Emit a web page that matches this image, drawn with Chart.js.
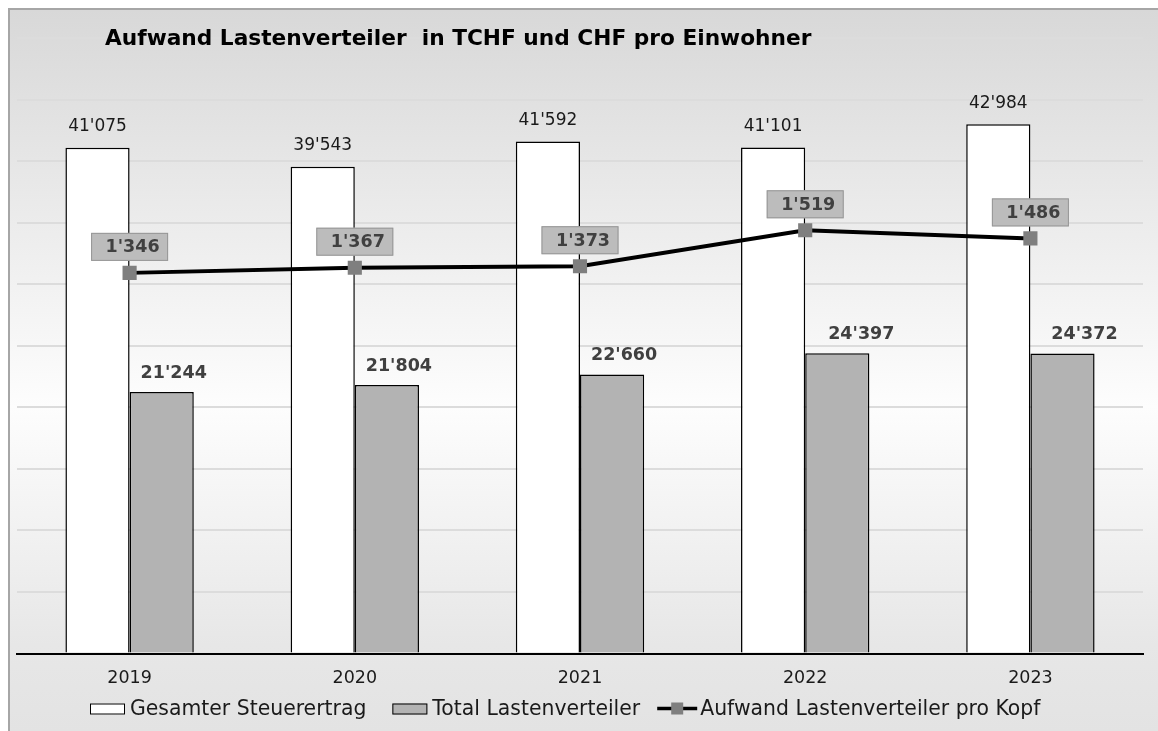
<!DOCTYPE html>
<html>
<head>
<meta charset="utf-8">
<script src="https://cdn.jsdelivr.net/npm/chart.js@4.4.0/dist/chart.umd.min.js"></script>
<style>
    html, body { margin: 0; padding: 0; width: 1158px; height: 731px; overflow: hidden; background: #fff; }
    #frame {
        position: absolute; left: 8px; top: 8px; width: 1150px; height: 723px; box-sizing: border-box;
        border-left: 2px solid #a6a6a6; border-top: 2px solid #a6a6a6;
        background: linear-gradient(to bottom, #d8d8d8 0%, #fdfdfd 55%, #e7e7e7 88%, #e3e3e3 100%);
    }
    #chart { position: absolute; left: 0; top: 0; }
</style>
</head>
<body>
<div id="frame"></div>
<canvas id="chart" width="1158" height="731"></canvas>
<script>
const years = ['2019', '2020', '2021', '2022', '2023'];
const steuerertrag = [41075, 39543, 41592, 41101, 42984];
const lastenverteiler = [21244, 21804, 22660, 24397, 24372];
const proKopf = [1346, 1367, 1373, 1519, 1486];
const seriesNames = ['Gesamter Steuerertrag', 'Total Lastenverteiler', 'Aufwand Lastenverteiler pro Kopf'];
const chartTitle = 'Aufwand Lastenverteiler  in TCHF und CHF pro Einwohner';

const FONT = '"DejaVu Sans", Verdana, sans-serif';

// the grey bar labels were dragged a bit to the right in the original
const greyLabelShift = [12, 12, 12, 24, 22];

// 41075 -> 41'075
function fmt(n) {
    return String(n).replace(/\B(?=(\d{3})+(?!\d))/g, "'");
}

const titlePlugin = {
    id: 'excelTitle',
    afterDraw(chart) {
        const ctx = chart.ctx;
        ctx.save();
        ctx.font = 'bold 21.7px ' + FONT;
        ctx.fillStyle = '#000';
        ctx.textAlign = 'left';
        ctx.textBaseline = 'alphabetic';
        ctx.fillText(chartTitle, 105, 45);
        ctx.restore();
    }
};

// Excel style legend: icon directly followed by text, drawn under the axis labels
const legendPlugin = {
    id: 'excelLegend',
    afterDraw(chart) {
        const ctx = chart.ctx;
        const baseY = 714.5;
        const midY = 708.5;
        const gaps = [26, 17];
        ctx.save();
        ctx.font = '20.4px ' + FONT;
        ctx.textAlign = 'left';
        ctx.textBaseline = 'alphabetic';
        let x = 90;
        chart.data.datasets.forEach((ds, i) => {
            if (ds.type === 'line') {
                ctx.strokeStyle = '#000';
                ctx.lineWidth = 3.5;
                ctx.beginPath(); ctx.moveTo(x, midY); ctx.lineTo(x + 40, midY); ctx.stroke();
                ctx.fillStyle = ds.pointBackgroundColor;
                ctx.fillRect(x + 14, midY - 6, 12, 12);
                x += 43;
            } else {
                ctx.fillStyle = ds.backgroundColor;
                ctx.fillRect(x, midY - 5, 35, 11);
                ctx.strokeStyle = '#000';
                ctx.lineWidth = 1;
                ctx.strokeRect(x + 0.5, midY - 4.5, 34, 10);
                x += 40;
            }
            ctx.fillStyle = '#1a1a1a';
            ctx.fillText(ds.label, x, baseY);
            x += ctx.measureText(ds.label).width + (gaps[i] || 0);
        });
        ctx.restore();
    }
};

const labelPlugin = {
    id: 'valueLabels',
    afterDatasetsDraw(chart) {
        const ctx = chart.ctx;
        ctx.save();
        ctx.textAlign = 'center';
        ctx.textBaseline = 'middle';

        // white bars: plain labels above
        ctx.font = '17px ' + FONT;
        ctx.fillStyle = '#1a1a1a';
        chart.getDatasetMeta(0).data.forEach((bar, i) => {
            ctx.fillText(fmt(steuerertrag[i]), bar.x, bar.y - 21);
        });

        // grey bars: bold labels
        ctx.font = 'bold 17.5px ' + FONT;
        ctx.fillStyle = '#404040';
        chart.getDatasetMeta(1).data.forEach((bar, i) => {
            ctx.fillText(fmt(lastenverteiler[i]), bar.x + greyLabelShift[i], bar.y - 19);
        });

        // line points: grey boxes
        chart.getDatasetMeta(2).data.forEach((pt, i) => {
            const w = 77, h = 28;
            const cx = pt.x, cy = pt.y - 26;
            ctx.fillStyle = '#bcbcbc';
            ctx.fillRect(cx - w / 2, cy - h / 2, w, h);
            ctx.strokeStyle = '#969696';
            ctx.lineWidth = 1;
            ctx.strokeRect(cx - w / 2 + 0.5, cy - h / 2 + 0.5, w - 1, h - 1);
            ctx.fillStyle = '#404040';
            ctx.fillText(fmt(proKopf[i]), cx + 3, cy + 1);
        });
        ctx.restore();
    }
};

const chart = new Chart(document.getElementById('chart'), {
    type: 'bar',
    data: {
        labels: years,
        datasets: [
            {
                label: seriesNames[0], data: steuerertrag, yAxisID: 'y', order: 1,
                backgroundColor: '#ffffff', borderColor: '#000', borderWidth: 1.5,
                categoryPercentage: 0.57, barPercentage: 1.0
            },
            {
                label: seriesNames[1], data: lastenverteiler, yAxisID: 'y', order: 1,
                backgroundColor: '#b3b3b3', borderColor: '#000', borderWidth: 1.5,
                categoryPercentage: 0.57, barPercentage: 1.0
            },
            {
                type: 'line', label: seriesNames[2], data: proKopf, yAxisID: 'y2', order: 0,
                borderColor: '#000', borderWidth: 4, tension: 0,
                pointStyle: 'rect', pointRadius: 10, pointBackgroundColor: '#7f7f7f',
                pointBorderWidth: 0, pointBorderColor: '#7f7f7f'
            }
        ]
    },
    options: {
        responsive: false,
        animation: false,
        layout: { padding: { left: 17, right: 15, top: 38, bottom: 27.5 } },
        plugins: {
            title: { display: false },
            tooltip: { enabled: false },
            legend: { display: false }
        },
        scales: {
            x: {
                grid: { display: false, drawTicks: false },
                border: { display: true, color: '#000', width: 2 },
                ticks: { color: '#1a1a1a', font: { family: FONT, size: 17.5 }, padding: 14.5 }
            },
            y: {
                min: 0, max: 50000,
                ticks: { display: false, stepSize: 5000 },
                grid: { color: '#dcdcdc', lineWidth: 2, drawTicks: false },
                border: { display: false }
            },
            y2: { display: false, min: -200, max: 2300 }
        }
    },
    plugins: [labelPlugin, titlePlugin, legendPlugin]
});
</script>
</body>
</html>
